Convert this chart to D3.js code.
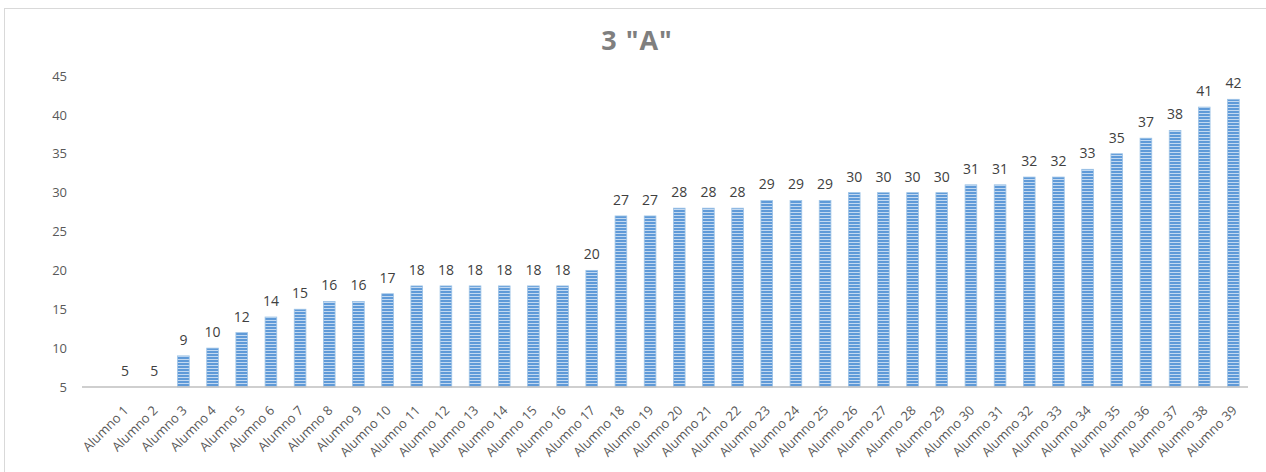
<!DOCTYPE html>
<html>
<head>
<meta charset="utf-8">
<script src="https://cdn.jsdelivr.net/npm/d3@7"></script>
<style>
  html, body { margin: 0; padding: 0; background: #fff; }
  svg { display: block; }
</style>
</head>
<body>
<svg id="chart" width="1266" height="472"></svg>
<script>
const title = '3 "A"';
const categories = ["Alumno 1","Alumno 2","Alumno 3","Alumno 4","Alumno 5","Alumno 6","Alumno 7","Alumno 8","Alumno 9","Alumno 10",
  "Alumno 11","Alumno 12","Alumno 13","Alumno 14","Alumno 15","Alumno 16","Alumno 17","Alumno 18","Alumno 19","Alumno 20",
  "Alumno 21","Alumno 22","Alumno 23","Alumno 24","Alumno 25","Alumno 26","Alumno 27","Alumno 28","Alumno 29","Alumno 30",
  "Alumno 31","Alumno 32","Alumno 33","Alumno 34","Alumno 35","Alumno 36","Alumno 37","Alumno 38","Alumno 39"];
const values = [5,5,9,10,12,14,15,16,16,17,18,18,18,18,18,18,20,27,27,28,28,28,29,29,29,30,30,30,30,31,31,32,32,33,35,37,38,41,42];
const yTicks = [5,10,15,20,25,30,35,40,45];

const svg = d3.select("#chart");
const font = "'Open Sans', 'Segoe UI', sans-serif";

// chart border
svg.append("rect").attr("x", 4.5).attr("y", 8.5).attr("width", 1263).attr("height", 500)
  .attr("fill", "#fff").attr("stroke", "#d9d9d9").attr("stroke-width", 1);

// pattern
const defs = svg.append("defs");
const pat = defs.append("pattern").attr("id", "stripes").attr("patternUnits", "userSpaceOnUse")
  .attr("width", 6).attr("height", 3);
pat.append("rect").attr("width", 6).attr("height", 3).attr("fill", "#c3d9f1");
pat.append("rect").attr("y", 0).attr("width", 6).attr("height", 2).attr("fill", "#5f9ad8");

const x = d3.scaleBand().domain(categories).range([110.5, 1248]).paddingInner(0.6).paddingOuter(0.3);
const y = d3.scaleLinear().domain([5, 45]).range([387, 76]);

// title
svg.append("text").attr("x", 637).attr("y", 50).attr("text-anchor", "middle")
  .attr("font-family", font).attr("font-weight", "bold").attr("font-size", 27)
  .attr("letter-spacing", 1).attr("fill", "#7f7f7f").text(title);

// y axis
const yAxis = svg.append("g").attr("transform", "translate(82,0)")
  .call(d3.axisLeft(y).tickValues(yTicks).tickSize(0).tickPadding(15));
yAxis.select(".domain").remove();
yAxis.selectAll("text").attr("font-family", font).attr("font-size", 13).attr("fill", "#595959");

// bars
svg.append("g").selectAll("rect").data(values).join("rect")
  .attr("x", (d, i) => x(categories[i]))
  .attr("y", d => y(d))
  .attr("width", x.bandwidth())
  .attr("height", d => y(5) - y(d))
  .attr("fill", "url(#stripes)")
  .attr("stroke", "#9dc3e6").attr("stroke-width", 0.8);

// data labels
svg.append("g").selectAll("text").data(values).join("text")
  .attr("x", (d, i) => x(categories[i]) + x.bandwidth() / 2)
  .attr("y", d => y(d) - 11)
  .attr("text-anchor", "middle")
  .attr("font-family", font).attr("font-size", 14).attr("fill", "#404040")
  .text(d => d);

// x axis
const xAxis = svg.append("g").attr("transform", "translate(0,387)")
  .call(d3.axisBottom(x).tickSize(0).tickPadding(0));
xAxis.select(".domain").remove();
xAxis.append("line").attr("x1", 82).attr("x2", 1248).attr("y1", 0).attr("y2", 0)
  .attr("stroke", "#bfbfbf").attr("stroke-width", 1.5);
xAxis.selectAll("text")
  .attr("font-family", font).attr("font-size", 13).attr("fill", "#595959")
  .attr("text-anchor", "end")
  .attr("dy", "0.35em")
  .attr("transform", "translate(1,21) rotate(-45)");
</script>
</body>
</html>
